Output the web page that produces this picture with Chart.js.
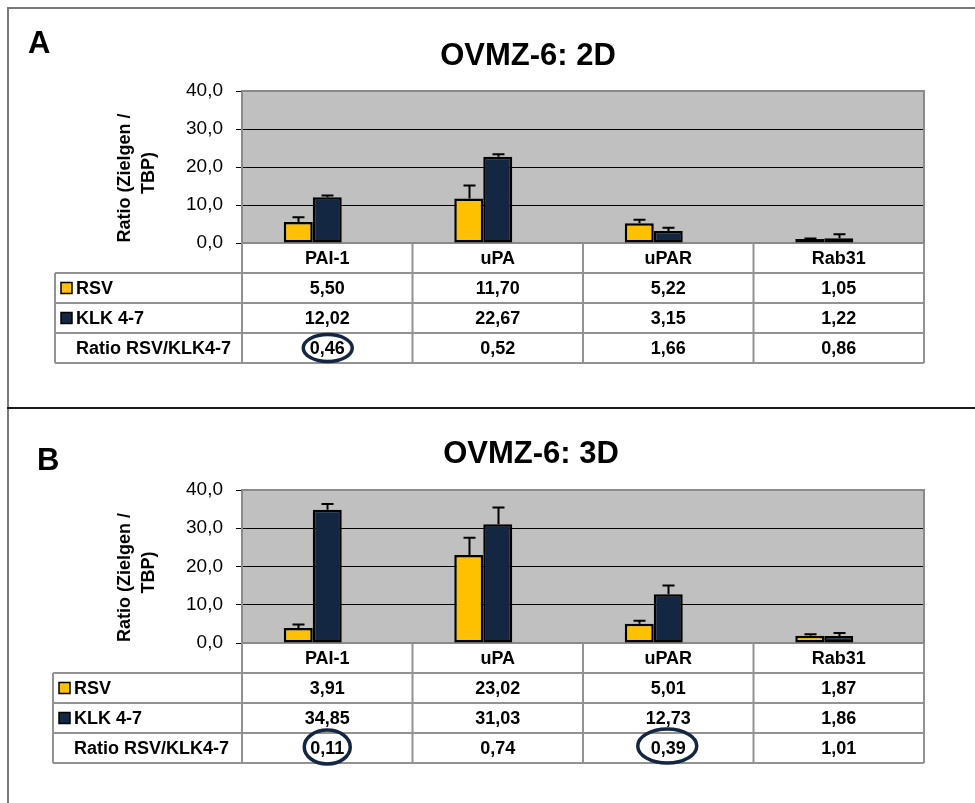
<!DOCTYPE html>
<html>
<head>
<meta charset="utf-8">
<script src="https://cdn.jsdelivr.net/npm/chart.js@4.4.0/dist/chart.umd.min.js"></script>
<style>
  html, body { margin: 0; padding: 0; background: #fff; }
  #page { position: relative; width: 975px; height: 803px; overflow: hidden; }
  canvas { position: absolute; left: 0; }
  .rule { position: absolute; }
  .frame-top { left: 7px; top: 7px; width: 968px; height: 2px; background: #7a7a7a; }
  .frame-left { left: 7px; top: 7px; width: 2px; height: 796px; background: #7a7a7a; }
  .divider { left: 7px; top: 407px; width: 968px; height: 2px; background: #1a1a1a; }
</style>
</head>
<body>
<div id="page">
  <canvas id="panelA" width="975" height="408" style="top:0"></canvas>
  <canvas id="panelB" width="975" height="395" style="top:408px"></canvas>
  <div class="rule frame-top"></div>
  <div class="rule frame-left"></div>
  <div class="rule divider"></div>
</div>
<script>
// Genes on the x axis and the shared y tick labels
const genes = ['PAI-1', 'uPA', 'uPAR', 'Rab31'];
const yTickLabels = ['0,0', '10,0', '20,0', '30,0', '40,0'];
const seriesNames = ['RSV', 'KLK 4-7'];
const ratioLabel = 'Ratio RSV/KLK4-7';

// 2D culture
const rsv2D = [5.50, 11.70, 5.22, 1.05];
const klk2D = [12.02, 22.67, 3.15, 1.22];
const ratio2D = [0.46, 0.52, 1.66, 0.86];
const rsvErr2D = [1.3, 3.4, 0.9, 0.15];
const klkErr2D = [0.5, 0.7, 0.85, 1.1];
const circled2D = [0];

// 3D culture
const rsv3D = [3.91, 23.02, 5.01, 1.87];
const klk3D = [34.85, 31.03, 12.73, 1.86];
const ratio3D = [0.11, 0.74, 0.39, 1.01];
const rsvErr3D = [0.9, 4.5, 0.8, 0.45];
const klkErr3D = [1.5, 4.4, 2.3, 0.75];
const circled3D = [0, 2];

const YELLOW = '#FFC000';
const NAVY = '#142742';
const GRID_GRAY = '#8a8a8a';
const TABLE_LINE = '#929292';
const FONT = '"Liberation Sans", Arial, sans-serif';

const fmt = v => v.toFixed(2).replace('.', ',');

function makeDecor(p) {
  return {
    id: 'panelDecor',
    beforeDraw(chart) {
      const { ctx, chartArea: a } = chart;
      ctx.save();
      ctx.fillStyle = '#C0C0C0';
      ctx.fillRect(a.left, a.top, a.right - a.left, a.bottom - a.top);
      ctx.restore();
    },
    beforeDatasetsDraw(chart) {
      const { ctx, chartArea: a } = chart;
      ctx.save();
      ctx.strokeStyle = GRID_GRAY;
      ctx.lineWidth = 2;
      ctx.strokeRect(a.left, a.top, a.right - a.left, a.bottom - a.top);
      ctx.restore();
    },
    afterDatasetsDraw(chart) {
      // upper error bars
      const { ctx } = chart;
      const y = chart.scales.y;
      const errs = [p.rsvErr, p.klkErr];
      const vals = [p.rsv, p.klk];
      ctx.save();
      ctx.strokeStyle = '#000';
      ctx.lineWidth = 2;
      for (let d = 0; d < 2; d++) {
        const meta = chart.getDatasetMeta(d);
        meta.data.forEach((bar, i) => {
          const top = y.getPixelForValue(vals[d][i] + errs[d][i]);
          const x = Math.round(bar.x) + 0.5;
          ctx.beginPath();
          ctx.moveTo(x, bar.y);
          ctx.lineTo(x, top);
          ctx.moveTo(x - 6, top);
          ctx.lineTo(x + 6, top);
          ctx.stroke();
        });
      }
      ctx.restore();
    },
    afterDraw(chart) {
      const { ctx, chartArea: a } = chart;
      const xs = chart.scales.x;
      const colW = (a.right - a.left) / genes.length;
      const rowH = 30;
      const top = a.bottom;
      const rows = [top, top + rowH, top + 2 * rowH, top + 3 * rowH, top + 4 * rowH];
      ctx.save();

      // panel letter and title
      ctx.fillStyle = '#000';
      ctx.textBaseline = 'alphabetic';
      ctx.font = 'bold 31px ' + FONT;
      ctx.textAlign = 'left';
      ctx.fillText(p.letter, p.letterX, p.letterY);
      ctx.textAlign = 'center';
      ctx.fillText(p.title, p.titleX, p.titleY);

      // rotated y axis title
      ctx.font = 'bold 18px ' + FONT;
      const cy = (a.top + a.bottom) / 2;
      [['Ratio (Zielgen /', 130, 11], ['TBP)', 153.5, 6]].forEach(([t, bx, dy]) => {
        ctx.save();
        ctx.translate(bx, cy + dy);
        ctx.rotate(-Math.PI / 2);
        ctx.textAlign = 'center';
        ctx.fillText(t, 0, 0);
        ctx.restore();
      });

      // data table grid
      ctx.strokeStyle = TABLE_LINE;
      ctx.lineWidth = 2;
      ctx.beginPath();
      for (let r = 1; r < rows.length; r++) {
        ctx.moveTo(p.tableLeft, rows[r]);
        ctx.lineTo(a.right, rows[r]);
      }
      ctx.moveTo(p.tableLeft, rows[1]);
      ctx.lineTo(p.tableLeft, rows[4]);
      for (let c = 0; c <= genes.length; c++) {
        const x = a.left + c * colW;
        ctx.moveTo(x, rows[0]);
        ctx.lineTo(x, rows[4]);
      }
      ctx.stroke();

      // header + values
      ctx.font = 'bold 18px ' + FONT;
      ctx.fillStyle = '#000';
      ctx.textBaseline = 'middle';
      ctx.textAlign = 'center';
      const rowData = [p.rsv, p.klk, p.ratio];
      genes.forEach((g, i) => {
        const cx = xs.getPixelForValue(i);
        ctx.fillText(g, cx, (rows[0] + rows[1]) / 2 + 1);
        rowData.forEach((arr, r) => {
          ctx.fillText(fmt(arr[i]), cx, (rows[r + 1] + rows[r + 2]) / 2 + 1);
        });
      });

      // row labels with legend keys
      ctx.textAlign = 'left';
      const labels = [seriesNames[0], seriesNames[1], ratioLabel];
      const keys = [YELLOW, NAVY, null];
      labels.forEach((t, r) => {
        const my = (rows[r + 1] + rows[r + 2]) / 2;
        if (keys[r]) {
          ctx.fillStyle = keys[r];
          ctx.fillRect(p.tableLeft + 6, my - 5.5, 11, 11);
          ctx.strokeStyle = '#000';
          ctx.lineWidth = 1.5;
          ctx.strokeRect(p.tableLeft + 6, my - 5.5, 11, 11);
        }
        ctx.fillStyle = '#000';
        ctx.fillText(t, p.tableLeft + 21, my + 1);
      });

      // rings around highlighted ratios
      ctx.strokeStyle = NAVY;
      ctx.lineWidth = 3.5;
      p.circled.forEach((c, k) => {
        const ring = p.rings[k];
        const cx = xs.getPixelForValue(c) + ring.dx;
        const my = (rows[3] + rows[4]) / 2 + ring.dy;
        ctx.beginPath();
        ctx.ellipse(cx, my, ring.rx, ring.ry, 0, 0, Math.PI * 2);
        ctx.stroke();
      });
      ctx.restore();
    }
  };
}

function buildPanel(p) {
  const canvas = document.getElementById(p.canvas);
  return new Chart(canvas, {
    type: 'bar',
    data: {
      labels: genes,
      datasets: [
        { label: seriesNames[0], data: p.rsv, backgroundColor: YELLOW },
        { label: seriesNames[1], data: p.klk, backgroundColor: NAVY },
        // empty slot keeps each pair to the left of the column centre
        { label: '', data: genes.map(() => null), backgroundColor: 'rgba(0,0,0,0)' }
      ]
    },
    options: {
      responsive: false,
      animation: false,
      events: [],
      layout: { padding: { left: 0, right: 51, top: p.padTop, bottom: p.padBottom } },
      datasets: {
        bar: {
          categoryPercentage: 0.51,
          barPercentage: 1,
          borderColor: '#000',
          borderWidth: 2.5,
          borderSkipped: false
        }
      },
      plugins: { legend: { display: false }, tooltip: { enabled: false }, title: { display: false } },
      scales: {
        x: { display: false },
        y: {
          min: 0,
          max: 40,
          afterFit: s => { s.width = 242; },
          border: { display: false },
          grid: {
            color: c => (c.tick && (c.tick.value === 0 || c.tick.value === 40)) ? GRID_GRAY : '#000',
            tickColor: '#000',
            tickLength: 6,
            lineWidth: 1
          },
          ticks: {
            stepSize: 10,
            padding: 13,
            color: '#000',
            font: { family: FONT, size: 19 },
            callback: (v, i) => yTickLabels[i]
          }
        }
      }
    },
    plugins: [makeDecor(p)]
  });
}

buildPanel({
  canvas: 'panelA', letter: 'A', title: 'OVMZ-6: 2D',
  letterX: 28, letterY: 53, titleX: 528, titleY: 65,
  padTop: 91, padBottom: 165, tableLeft: 55,
  rsv: rsv2D, klk: klk2D, ratio: ratio2D, rsvErr: rsvErr2D, klkErr: klkErr2D,
  circled: circled2D, rings: [{ rx: 24.5, ry: 13.5, dx: 0.5, dy: 0 }]
});

buildPanel({
  canvas: 'panelB', letter: 'B', title: 'OVMZ-6: 3D',
  letterX: 37, letterY: 62, titleX: 531, titleY: 55,
  padTop: 82, padBottom: 160, tableLeft: 53,
  rsv: rsv3D, klk: klk3D, ratio: ratio3D, rsvErr: rsvErr3D, klkErr: klkErr3D,
  circled: circled3D,
  rings: [{ rx: 23, ry: 17, dx: 0, dy: -1 }, { rx: 29.5, ry: 17, dx: -1, dy: -2 }]
});
</script>
</body>
</html>
